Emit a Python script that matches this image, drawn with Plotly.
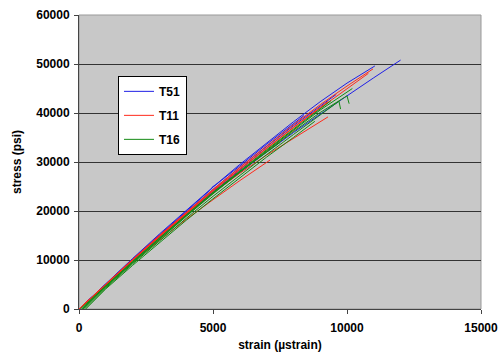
import plotly.graph_objects as go

# ---- data ----
series_names = ["T51", "T11", "T16"]
series_colors = ["#1f1fe6", "#ff2a1a", "#138a13"]

# T51 specimens: (strain list, stress list)
t51_strain = [
    [0, 1000, 2000, 3000, 4000, 5000, 6000, 7000, 8000, 9000, 10000, 11000, 12000],
    [0, 1000, 2000, 3000, 4000, 5000, 6000, 7000, 8000, 9000, 10000, 11040],
    [0, 1000, 2000, 3000, 4000, 5000, 6000, 7000, 8000, 9000, 9600],
    [0, 1000, 2000, 3000, 4000, 4900, 5050, 4950, 6000, 7000, 8400],
    [0, 1000, 2000, 3000, 4000, 5000, 5200, 5100, 6000, 6800],
]
t51_stress = [
    [0, 5050, 9900, 14700, 19300, 23700, 27900, 32000, 36000, 39800, 43500, 47200, 50800],
    [0, 5200, 10300, 15300, 20200, 24900, 29500, 33900, 38200, 42300, 46100, 49600],
    [0, 5100, 10100, 15000, 19800, 24400, 28900, 33200, 37400, 41400, 43800],
    [0, 5150, 10200, 15100, 19900, 24300, 25200, 24700, 29200, 33600, 39500],
    [0, 5000, 9900, 14700, 19400, 24100, 24900, 24300, 28300, 32000],
]

# T11 specimens
t11_strain = [
    [0, 1000, 2000, 3000, 4000, 5000, 6000, 7000, 8000, 9000, 10000, 10970],
    [0, 1000, 2000, 3000, 4000, 5000, 6000, 7000, 8000, 9290],
    [0, 1000, 2000, 3000, 4000, 5000, 6000, 7130],
    [0, 1000, 2000, 3000, 4000, 5000, 6000, 7000, 8000, 9300],
    [0, 1000, 2000, 3000, 4000, 5000, 6000, 7000, 8200],
    [0, 1000, 2000, 3000, 4000, 5000, 6000, 7000, 8000, 9000, 10000, 10800],
]
t11_stress = [
    [0, 5100, 10100, 15000, 19800, 24400, 28900, 33300, 37600, 41700, 45500, 49000],
    [0, 5000, 9900, 14700, 19400, 23700, 27700, 31400, 34800, 39200],
    [0, 4800, 9500, 14000, 18300, 22300, 26200, 30400],
    [0, 5100, 10100, 15000, 19700, 24200, 28600, 32900, 37100, 42400],
    [0, 5000, 9900, 14700, 19300, 23800, 28100, 32300, 37300],
    [0, 5050, 10000, 14900, 19600, 24100, 28500, 32800, 37000, 41000, 44900, 48100],
]

# T16 specimens
t16_strain = [
    [150, 1000, 2000, 3000, 4000, 5000, 6000, 7000, 8000, 9000, 10000, 10080],
    [200, 1000, 2000, 3000, 4000, 5000, 6000, 7000, 8000, 9000, 9700, 9760],
    [100, 1000, 2000, 3000, 4000, 5000, 6000, 7000, 8000, 9400],
    [250, 1000, 2000, 3000, 4000, 5000, 6000, 7000, 8000, 8800],
    [50, 1000, 2000, 3000, 4000, 5000, 6000, 7500],
    [120, 1000, 2000, 3000, 4000, 5000, 6000, 7000, 8000, 9000, 10200],
]
t16_stress = [
    [0, 4500, 9400, 14200, 18900, 23500, 27900, 32100, 36200, 40100, 43500, 41900],
    [0, 4300, 9200, 13900, 18500, 23000, 27300, 31500, 35600, 39600, 42400, 40800],
    [0, 4700, 9600, 14500, 19200, 23800, 28200, 32500, 36700, 42500],
    [0, 4100, 8900, 13600, 18100, 22500, 26800, 31000, 35000, 38300],
    [0, 4800, 9700, 14500, 19200, 23700, 28000, 34000],
    [0, 4600, 9500, 14300, 19000, 23600, 28000, 32300, 36500, 40600, 45000],
]

x_ticks = [0, 5000, 10000, 15000]
y_ticks = [0, 10000, 20000, 30000, 40000, 50000, 60000]

all_strain = [t51_strain, t11_strain, t16_strain]
all_stress = [t51_stress, t11_stress, t16_stress]

fig = go.Figure()
for name, color, xs, ys in zip(series_names, series_colors, all_strain, all_stress):
    for i, (x, y) in enumerate(zip(xs, ys)):
        fig.add_trace(go.Scatter(
            x=x, y=y, mode="lines", name=name, legendgroup=name,
            showlegend=(i == 0), line=dict(color=color, width=1),
        ))

fam = "Liberation Sans, Arial, sans-serif"
bold12 = dict(family=fam, size=12, color="black", weight="bold")

fig.update_layout(
    width=503, height=354,
    margin=dict(l=79, r=22, t=15, b=45),
    paper_bgcolor="white",
    plot_bgcolor="#c8c8c8",
    font=dict(family=fam, size=12, color="black"),
    showlegend=True,
    legend=dict(
        x=0.097, y=0.793, xanchor="left", yanchor="top",
        bgcolor="white", bordercolor="black", borderwidth=1,
        font=bold12, tracegroupgap=5, itemwidth=30,
    ),
    xaxis=dict(
        range=[0, 15000], tickvals=x_ticks, ticktext=[str(v) for v in x_ticks],
        ticks="outside", ticklen=4, ticklabelstandoff=4, automargin=False,
        tickcolor="#444", showgrid=False, zeroline=False,
        showline=True, linecolor="#444", linewidth=1,
        tickfont=bold12,
        title=dict(text="strain (µstrain)", font=bold12, standoff=6),
    ),
    yaxis=dict(
        range=[0, 60000], tickvals=y_ticks, ticktext=[str(v) for v in y_ticks],
        ticks="outside", ticklen=4, ticklabelstandoff=2, automargin=False,
        tickcolor="#444", showgrid=True, gridcolor="#333333", gridwidth=1,
        zeroline=False, showline=True, linecolor="#444", linewidth=1,
        tickfont=bold12,
        title=dict(text="stress (psi)", font=bold12, standoff=12),
    ),
    shapes=[dict(type="rect", xref="paper", yref="paper", x0=0, y0=0, x1=1, y1=1,
                 line=dict(color="#999999", width=1), fillcolor="rgba(0,0,0,0)", layer="below")],
)

fig.write_html("out.html")
